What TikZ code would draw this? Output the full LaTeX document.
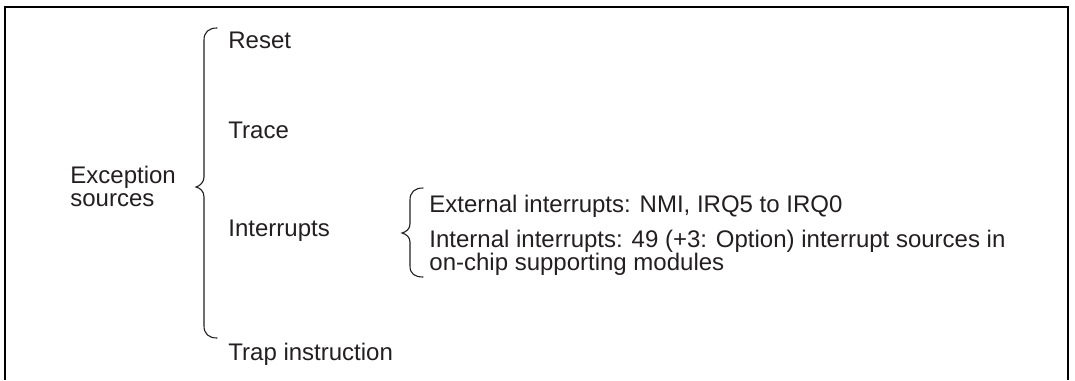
\documentclass[tikz,border=0pt]{standalone}
\usepackage{fontspec}
\setmainfont{Liberation Sans}
\usetikzlibrary{positioning}
\definecolor{InkGray}{RGB}{35,31,32}
\tikzset{
  label/.style  = {anchor=base west, inner sep=0pt, align=left, text=InkGray,
                   font=\fontsize{12}{11.5}\selectfont},
  frame/.style  = {line width=1.1pt, black},
  curly/.style  = {line width=0.55pt, InkGray, line cap=round}
}

\begin{document}
\begin{tikzpicture}[x=0.5pt, y=-0.5pt]
\useasboundingbox (0,0) rectangle (1075,380);
% open frame, cut at the bottom
\draw[frame] (5,380) -- (5,7) -- (1068,7) -- (1068,380);

% multi-line labels sit on their last baseline
\node[label] (src)  at (70,206)   {Exception\\sources};
\node[label] (rst)  at (228,48)   {Reset};
\node[label] (trc)  at (228,138)  {Trace};
\node[label] (irq)  at (228,236)  {Interrupts};
\node[label] (trap) at (228,360)  {Trap instruction};
\node[label] (ext)  at (429,212)  {External interrupts: NMI, IRQ5 to IRQ0};
\node[label] (int)  at (429,270)  {Internal interrupts: 49 (+3: Option) interrupt sources in\\on-chip supporting modules};

% outer brace
\draw[curly] (217,28) .. controls (209,28) and (204,32) .. (204,40) -- (204,177)
  .. controls (204,182) and (200,186) .. (196,187)
  .. controls (200,188) and (204,191) .. (204,197) -- (204,326)
  .. controls (204,334) and (209,338) .. (217,338);
% inner brace
\draw[curly] (423,188) .. controls (415,188) and (410,192) .. (410,200) -- (410,224)
  .. controls (410,229) and (406,232) .. (402,233)
  .. controls (406,234) and (410,237) .. (410,242) -- (410,266)
  .. controls (410,274) and (415,277) .. (423,277);
\end{tikzpicture}
\end{document}
